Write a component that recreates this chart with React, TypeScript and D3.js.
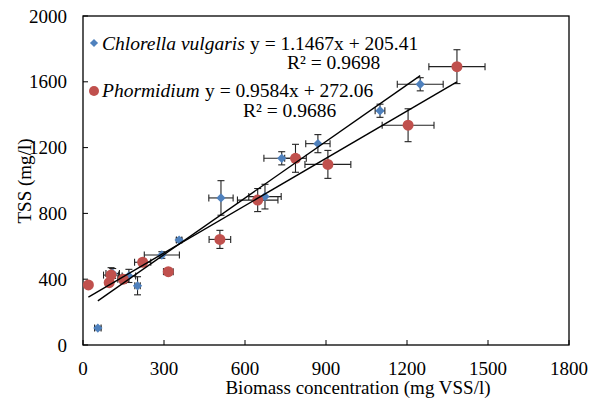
import React, { useEffect, useRef } from 'react';
import * as d3 from 'd3';

// Chlorella vulgaris: [x, y, xerr, yerr]
const chlorella: number[][] = [
  [55, 103, 12, 10],
  [110, 435, 25, 30],
  [170, 420, 25, 40],
  [202, 360, 10, 55],
  [292, 547, 65, 20],
  [356, 638, 10, 12],
  [511, 894, 45, 105],
  [674, 902, 60, 75],
  [736, 1135, 66, 40],
  [870, 1224, 45, 55],
  [1100, 1424, 18, 40],
  [1249, 1585, 85, 40],
];

// Phormidium: [x, y, xerr, yerr]
const phormidium: number[][] = [
  [20, 365, 8, 10],
  [97, 379, 10, 15],
  [104, 425, 28, 45],
  [149, 400, 20, 25],
  [221, 503, 30, 20],
  [316, 446, 18, 18],
  [507, 642, 40, 55],
  [647, 881, 75, 70],
  [787, 1135, 40, 85],
  [907, 1098, 85, 85],
  [1204, 1336, 96, 100],
  [1385, 1692, 104, 103],
];

const fitC = { slope: 1.1467, icpt: 205.41, x0: 55, x1: 1249 };
const fitP = { slope: 0.9584, icpt: 272.06, x0: 20, x1: 1385 };

const xTicks = [0, 300, 600, 900, 1200, 1500, 1800];
const yTicks = [0, 400, 800, 1200, 1600, 2000];

const BLUE = '#4F81BD';
const RED = '#C0504D';
const FONT = "'Liberation Serif', 'DejaVu Serif', serif";

const App = () => {
  const ref = useRef<SVGSVGElement>(null);

  useEffect(() => {
    const svg = d3.select(ref.current);
    svg.selectAll('*').remove();

    const x = d3.scaleLinear().domain([0, 1800]).range([83, 569]);
    const y = d3.scaleLinear().domain([0, 2000]).range([345, 16]);

    // frame
    svg.append('rect')
      .attr('x', 83).attr('y', 16)
      .attr('width', 486).attr('height', 329)
      .attr('fill', 'none').attr('stroke', '#000').attr('stroke-width', 1.3);

    // ticks (inside)
    xTicks.forEach(t => {
      svg.append('line').attr('x1', x(t)).attr('x2', x(t))
        .attr('y1', 345).attr('y2', 340).attr('stroke', '#000');
      svg.append('text').attr('x', x(t)).attr('y', 375)
        .attr('text-anchor', 'middle').style('font-size', '19px')
        .text(t);
    });
    yTicks.forEach(t => {
      svg.append('line').attr('x1', 83).attr('x2', 88)
        .attr('y1', y(t)).attr('y2', y(t)).attr('stroke', '#000');
      svg.append('text').attr('x', 67).attr('y', y(t) + 6.5)
        .attr('text-anchor', 'end').style('font-size', '19px')
        .text(t);
    });

    svg.append('text').attr('x', 358).attr('y', 394)
      .attr('text-anchor', 'middle').style('font-size', '19px')
      .text('Biomass concentration (mg VSS/l)');
    svg.append('text')
      .attr('transform', 'translate(31,181) rotate(-90)')
      .attr('text-anchor', 'middle').style('font-size', '19px')
      .text('TSS (mg/l)');

    // error bars
    const drawErr = (data: number[][]) => {
      const g = svg.append('g').attr('stroke', '#222').attr('stroke-width', 1.1);
      data.forEach(([vx, vy, ex, ey]) => {
        const cx = x(vx), cy = y(vy);
        const xl = x(vx - ex), xr = x(vx + ex), yt = y(vy + ey), yb = y(vy - ey);
        g.append('line').attr('x1', xl).attr('x2', xr).attr('y1', cy).attr('y2', cy);
        g.append('line').attr('x1', xl).attr('x2', xl).attr('y1', cy - 3.5).attr('y2', cy + 3.5);
        g.append('line').attr('x1', xr).attr('x2', xr).attr('y1', cy - 3.5).attr('y2', cy + 3.5);
        g.append('line').attr('x1', cx).attr('x2', cx).attr('y1', yt).attr('y2', yb);
        g.append('line').attr('x1', cx - 3.5).attr('x2', cx + 3.5).attr('y1', yt).attr('y2', yt);
        g.append('line').attr('x1', cx - 3.5).attr('x2', cx + 3.5).attr('y1', yb).attr('y2', yb);
      });
    };
    drawErr(chlorella);
    drawErr(phormidium);

    const diamond = d3.symbol().type(d3.symbolDiamond2).size(55);

    svg.append('g').selectAll('path').data(chlorella).enter().append('path')
      .attr('d', diamond as any)
      .attr('transform', d => `translate(${x(d[0])},${y(d[1])})`)
      .attr('fill', BLUE);
    svg.append('g').selectAll('circle').data(phormidium).enter().append('circle')
      .attr('cx', d => x(d[0])).attr('cy', d => y(d[1])).attr('r', 5.5)
      .attr('fill', RED);

    // trend lines
    [fitC, fitP].forEach(f => {
      svg.append('line')
        .attr('x1', x(f.x0)).attr('y1', y(f.slope * f.x0 + f.icpt))
        .attr('x2', x(f.x1)).attr('y2', y(f.slope * f.x1 + f.icpt))
        .attr('stroke', '#000').attr('stroke-width', 1.4);
    });

    // legend
    svg.append('path').attr('d', d3.symbol().type(d3.symbolDiamond2).size(42) as any)
      .attr('transform', 'translate(94,43)').attr('fill', BLUE);
    svg.append('circle').attr('cx', 94).attr('cy', 91).attr('r', 5).attr('fill', RED);

    const txt = (tx: number, ty: number, s: string, italic = false) =>
      svg.append('text').attr('x', tx).attr('y', ty)
        .style('font-size', '19.5px')
        .style('font-style', italic ? 'italic' : 'normal')
        .text(s);

    txt(102, 50, 'Chlorella vulgaris', true);
    txt(250, 50, 'y = 1.1467x + 205.41');
    txt(287, 69, 'R² = 0.9698');
    txt(102, 97, 'Phormidium', true);
    txt(205, 97, 'y = 0.9584x + 272.06');
    txt(243, 117, 'R² = 0.9686');
  }, []);

  return (
    <svg ref={ref} width={600} height={404}
      style={{ position: 'absolute', left: 0, top: 0, background: '#fff', fontFamily: FONT }} />
  );
};

export default App;
